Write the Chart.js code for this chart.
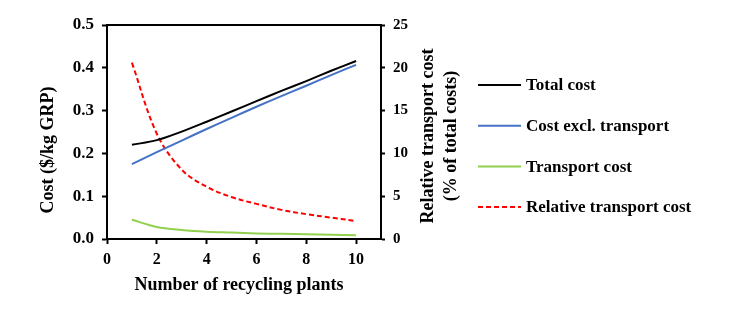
<!DOCTYPE html>
<html>
<head>
<meta charset="utf-8">
<script src="https://cdn.jsdelivr.net/npm/chart.js@4.4.1/dist/chart.umd.min.js"></script>
<style>
  html, body { margin: 0; padding: 0; background: #fff; }
  #wrap { width: 754px; height: 321px; }
</style>
</head>
<body>
<div id="wrap"><canvas id="costChart" width="754" height="321"></canvas></div>
<script>
// values
const plants = [1, 2, 3, 4, 5, 6, 7, 8, 9, 10];
const totalCost = [0.220, 0.231, 0.251, 0.274, 0.298, 0.322, 0.346, 0.369, 0.393, 0.416];
const costExclTransport = [0.175, 0.203, 0.230, 0.257, 0.283, 0.309, 0.334, 0.358, 0.383, 0.407];
const transportCost = [0.045, 0.028, 0.021, 0.017, 0.015, 0.013, 0.012, 0.011, 0.010, 0.009];
const relativeTransport = [20.6, 12.3, 8.1, 6.1, 4.9, 4.1, 3.4, 2.9, 2.5, 2.1];

const seriesNames = ["Total cost", "Cost excl. transport", "Transport cost", "Relative transport cost"];
const leftTitle = "Cost ($/kg GRP)";
const rightTitle = ["Relative transport cost", "(% of total costs)"];
const bottomTitle = "Number of recycling plants";

const FONT = "'Liberation Serif', 'Times New Roman', serif";

function toPoints(values) {
    return plants.map((p, i) => ({ x: p, y: values[i] }));
}

// frame, axis titles and legend drawn on the canvas
const extras = {
    id: "extras",
    afterDraw(chart) {
        const ctx = chart.ctx;
        const area = chart.chartArea;
        ctx.save();

        ctx.strokeStyle = "#000";
        ctx.lineWidth = 2;
        ctx.beginPath();
        ctx.moveTo(area.left, area.top);
        ctx.lineTo(area.right, area.top);
        ctx.stroke();

        ctx.fillStyle = "#000";
        ctx.font = "bold 18px " + FONT;
        ctx.textAlign = "center";
        ctx.textBaseline = "alphabetic";
        ctx.fillText(bottomTitle, 239, 290);

        ctx.textBaseline = "middle";
        ctx.save();
        ctx.translate(48, 150);
        ctx.rotate(-Math.PI / 2);
        ctx.fillText(leftTitle, 0, 0);
        ctx.restore();

        ctx.save();
        ctx.translate(428, 136);
        ctx.rotate(-Math.PI / 2);
        ctx.fillText(rightTitle[0], 0, 0);
        ctx.restore();

        ctx.save();
        ctx.translate(451, 136);
        ctx.rotate(-Math.PI / 2);
        ctx.fillText(rightTitle[1], 0, 0);
        ctx.restore();

        // legend
        ctx.font = "bold 17px " + FONT;
        ctx.textAlign = "left";
        chart.data.datasets.forEach((ds, i) => {
            const y = 85 + i * 40.7;
            ctx.strokeStyle = ds.borderColor;
            ctx.lineWidth = 2;
            ctx.setLineDash(ds.borderDash || []);
            ctx.beginPath();
            ctx.moveTo(478, y);
            ctx.lineTo(521, y);
            ctx.stroke();
            ctx.setLineDash([]);
            ctx.fillText(ds.label, 526, y + 1);
        });

        ctx.restore();
    }
};

const config = {
    type: "line",
    data: {
        datasets: [
            { label: seriesNames[0], data: toPoints(totalCost), borderColor: "#000000", yAxisID: "y" },
            { label: seriesNames[1], data: toPoints(costExclTransport), borderColor: "#4472C4", yAxisID: "y" },
            { label: seriesNames[2], data: toPoints(transportCost), borderColor: "#92D050", yAxisID: "y" },
            { label: seriesNames[3], data: toPoints(relativeTransport), borderColor: "#FF0000", borderDash: [5, 3], yAxisID: "y2" }
        ]
    },
    options: {
        responsive: false,
        animation: false,
        layout: { padding: { top: 25, left: 0, right: 0, bottom: 0 } },
        elements: {
            line: { borderWidth: 2, tension: 0.35, fill: false },
            point: { radius: 0 }
        },
        plugins: {
            legend: { display: false },
            tooltip: { enabled: false }
        },
        scales: {
            x: {
                type: "linear",
                min: 0,
                max: 11,
                ticks: { stepSize: 2, includeBounds: false, padding: 6, color: "#000", font: { family: FONT, size: 16, weight: "bold" } },
                grid: { drawOnChartArea: false, drawTicks: true, tickLength: 5, tickWidth: 2, tickColor: "#000" },
                border: { display: true, color: "#000", width: 2 },
                afterFit(scale) { scale.height = 82; }
            },
            y: {
                position: "left",
                min: 0,
                max: 0.5,
                ticks: { stepSize: 0.1, padding: 8, color: "#000", font: { family: FONT, size: 17, weight: "bold" },
                         callback: v => v.toFixed(1) },
                grid: { drawOnChartArea: false, drawTicks: true, tickLength: 5, tickWidth: 2, tickColor: "#000" },
                border: { display: true, color: "#000", width: 2 },
                afterFit(scale) { scale.width = 107; }
            },
            y2: {
                position: "right",
                min: 0,
                max: 25,
                ticks: { stepSize: 5, padding: 8, color: "#000", font: { family: FONT, size: 15, weight: "bold" } },
                grid: { drawOnChartArea: false, drawTicks: true, tickLength: 4, tickWidth: 2, tickColor: "#000" },
                border: { display: true, color: "#000", width: 2 },
                afterFit(scale) { scale.width = 754 - 381; }
            }
        }
    },
    plugins: [extras]
};

new Chart(document.getElementById("costChart").getContext("2d"), config);
</script>
</body>
</html>
